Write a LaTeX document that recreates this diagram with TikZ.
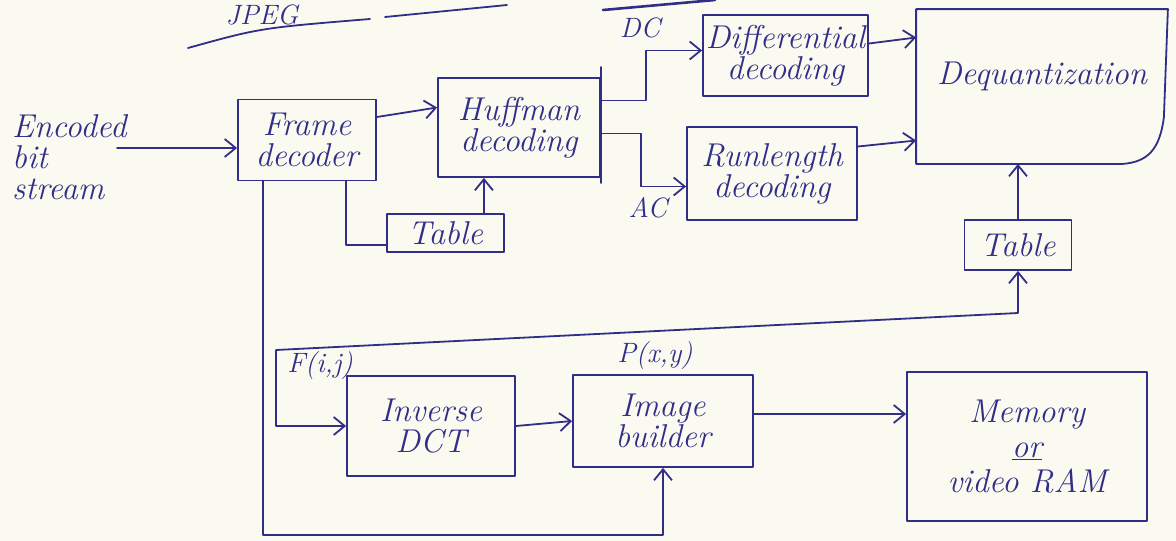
\documentclass[tikz,border=0pt]{standalone}
\usetikzlibrary{arrows.meta,calc}
\definecolor{ink}{RGB}{48,46,135}
\definecolor{paper}{RGB}{251,250,241}
\newcommand\handfont{\fontsize{33}{31}\selectfont\itshape}
\newcommand\smallhand{\fontsize{28}{28}\selectfont\itshape}
\begin{document}
\begin{tikzpicture}[x=1pt,y=-1pt,
  pen/.style={draw=ink, line width=1.8pt, line cap=round, line join=round},
  arr/.style={pen, -{Straight Barb[length=11pt,width=18pt]}},
  dblarr/.style={pen, {Straight Barb[length=11pt,width=18pt]}-{Straight Barb[length=11pt,width=18pt]}},
  box/.style={pen, inner sep=0pt, align=center, font=\handfont, text=ink},
  lbl/.style={font=\smallhand, text=ink, inner sep=0pt}]
\useasboundingbox (0,0) rectangle (1176,541);
\fill[paper] (0,0) rectangle (1176,541);

% title fragment and underlines
\node[lbl, font=\fontsize{28}{28}\selectfont\itshape, anchor=base] (title) at (262,24) {JPEG};
\draw[pen] (188,48) .. controls (260,28) .. (370,19);
\draw[pen] (385,17) -- (507,5);
\draw[pen, line width=2.6pt] (603,10) -- (715,0);

% blocks
\node[box, minimum width=138pt, minimum height=81pt] (frame) at (307,140) {Frame\\decoder};
\node[box, minimum width=162pt, minimum height=99pt] (huff) at (519,127.5) {Huffman\\decoding};
\node[box, minimum width=117pt, minimum height=38pt] (table1) at (445.5,233) {Table};
\node[box, minimum width=165pt, minimum height=81pt] (diff) at (785.5,55.5) {Differential\\decoding};
\node[box, minimum width=170pt, minimum height=93pt] (run) at (772,173.5) {Runlength\\decoding};
\node[box, draw=none, minimum width=250pt, minimum height=153pt, text depth=26pt] (deq) at (1042,86.5) {Dequantization};
\draw[pen] (deq.north west) -- (deq.north east) -- ($(deq.north east)+(-4,108)$)
  .. controls ($(deq.north east)+(-8,140)$) and ($(deq.south east)+(-20,-2)$) .. ($(deq.south east)+(-45,0)$)
  -- (deq.south west) -- cycle;
\node[box, minimum width=107pt, minimum height=50pt] (table2) at (1018,245) {Table};
\node[box, minimum width=168pt, minimum height=100pt] (idct) at (431,426) {Inverse\\DCT};
\node[box, minimum width=180pt, minimum height=92pt] (img) at (663,421) {Image\\builder};
\node[box, minimum width=240pt, minimum height=149pt] (mem) at (1027,446.5) {Memory\\[4pt]\underline{or}\\[4pt]video RAM};

% input
\node[lbl, font=\handfont, align=left, anchor=north west] (enc) at (12,114) {Encoded\\bit\\stream};
\coordinate (in) at (117,148);
\draw[arr] (in) -- (in -| frame.west);

% frame -> huffman
\draw[arr] ($(frame.east)+(0,-23)$) -- ($(huff.west)+(0,-20)$);

% huffman right bus
\draw[pen] ($(huff.north east)+(0,-10)$) -- ($(huff.south east)+(0,5)$);

% DC branch
\draw[arr] ($(huff.east)+(0,-27)$) -- ++(45,0) |- ($(diff.west)+(0,-5)$);
\node[lbl] (dc) at (640,28) {DC};
% AC branch
\draw[arr] ($(huff.east)+(0,6)$) -- ++(40,0) |- ($(run.west)+(0,13)$);
\node[lbl] (ac) at (648,208) {AC};

% to dequantization
\draw[arr] ($(diff.east)+(0,-12)$) -- ($(deq.west)+(0,-49)$);
\draw[arr] ($(run.east)+(0,-27)$) -- ($(deq.west)+(0,54)$);
\draw[arr] (table2.north) -- (table2.north |- deq.south);

% frame -> table1 -> huffman
\coordinate (fb2) at ($(frame.south east)+(-31,0)$);
\draw[pen] (fb2) |- ($(table1.west)+(0,12)$);
\coordinate (t1top) at ($(table1.north east)+(-21,0)$);
\draw[arr] (t1top) -- (t1top |- huff.south);

% table2 <-> inverse DCT
\coordinate (tc) at (1018,313);
\coordinate (lc) at (276,350);
\draw[dblarr] (table2.south) -- (tc) -- (lc) |- (idct.west);
\node[lbl] (fij) at (320,366) {F(i,j)};

% long loop from frame decoder to image builder
\coordinate (fb) at ($(frame.south west)+(26,0)$);
\coordinate (loopy) at (0,535);
\draw[arr] (fb) -- (fb |- loopy) -| (img.south);

% lower chain
\draw[arr] (idct.east) -- (img.west);
\node[lbl] (pxy) at (655,356) {P(x,y)};
\coordinate (ib) at ($(img.east)+(0,-7)$);
\draw[arr] (ib) -- (ib -| mem.west);
\end{tikzpicture}
\end{document}
